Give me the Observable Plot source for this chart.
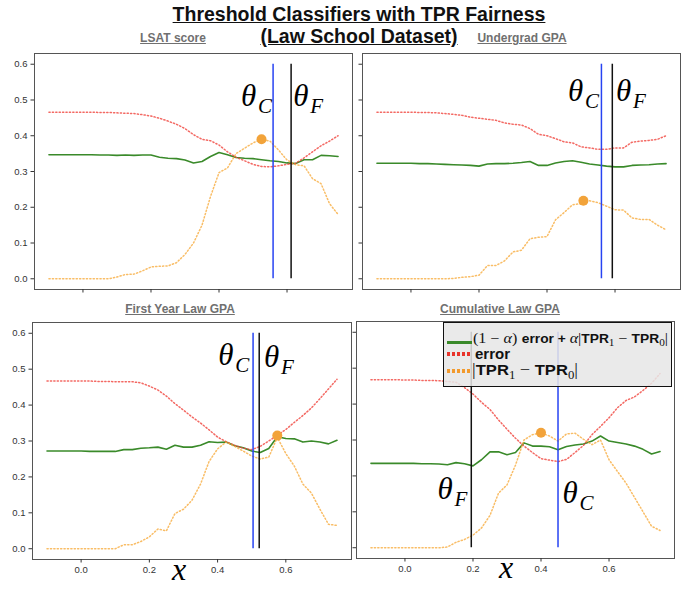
<!DOCTYPE html>
<html><head><meta charset="utf-8">
<script src="https://cdn.jsdelivr.net/npm/d3@7"></script>
<script src="https://cdn.jsdelivr.net/npm/@observablehq/plot@0.6"></script>
<style>
body{margin:0;background:#fff;}
#wrap{position:relative;width:691px;height:600px;background:#fff;overflow:hidden;font-family:"Liberation Sans",Arial,Helvetica,sans-serif;}
.abs{position:absolute;white-space:nowrap;line-height:1;}
.title{font-weight:bold;font-size:19.5px;color:#111;text-decoration:underline;transform:translateX(-50%);}
.ptitle{font-weight:bold;font-size:12px;color:#707070;text-decoration:underline;transform:translateX(-50%);}
.xl{font-family:"Liberation Serif","Times New Roman",serif;font-style:italic;font-size:32px;color:#000;}
.panel{position:absolute;}
.m{font-family:"Liberation Serif","Times New Roman",serif;font-weight:normal;}
.op{margin:0 0.25em;}
sub{font-size:0.7em;vertical-align:-0.3em;line-height:0;}
.sw{position:absolute;width:25px;}
.fit{transform-origin:0 50%;}
</style></head>
<body><div id="wrap">
<div class="abs title" style="left:359px;top:4.5px">Threshold Classifiers with TPR Fairness</div>
<div class="abs title" style="left:359px;top:26.5px">(Law School Dataset)</div>
<div class="abs ptitle" style="left:173px;top:31.5px">LSAT score</div>
<div class="abs ptitle" style="left:522px;top:32px">Undergrad GPA</div>
<div class="abs ptitle" style="left:180px;top:302.8px">First Year Law GPA</div>
<div class="abs ptitle" style="left:500px;top:302.8px">Cumulative Law GPA</div>
<div class="panel" id="p1" style="left:0px;top:45px"></div>
<div class="panel" id="p2" style="left:358px;top:45px"></div>
<div class="panel" id="p3" style="left:0px;top:314px"></div>
<div class="panel" id="p4" style="left:352px;top:313px"></div>
<div class="abs xl" style="left:172px;top:553px">x</div>
<div class="abs xl" style="left:499px;top:551px">x</div>
<div id="legend" style="position:absolute;left:443px;top:322px;width:229px;height:65px;box-sizing:border-box;border:1.5px solid #111;background:rgba(231,231,231,0.86);">
  <div class="sw" style="left:3px;top:17.5px;height:3.5px;background:#3a8a2a"></div>
  <div class="abs fit" data-w="195" style="left:29px;top:7.5px;font-size:14px;color:#111"><span class="m">(1<span class="op">−</span><i>α</i>)</span> <b style="font-size:12px">error + </b><i class="m">α</i><span class="m">|</span><b style="font-size:12px">TPR</b><sub class="m">1</sub><span class="m op">−</span><b style="font-size:12px">TPR</b><sub class="m">0</sub><span class="m">|</span></div>
  <div class="sw" style="left:3px;top:29px;height:3.5px;background:repeating-linear-gradient(to right,#e8352c 0 3px,transparent 3px 5px)"></div>
  <div class="abs" style="left:31px;top:23px;font-size:15px;font-weight:bold;color:#111">error</div>
  <div class="sw" style="left:3px;top:46px;height:3.5px;background:repeating-linear-gradient(to right,#f29a2e 0 3px,transparent 3px 5px)"></div>
  <div class="abs fit" data-w="106" style="left:28px;top:38px;font-size:17px;color:#111"><span class="m">|</span><b style="font-size:15.5px">TPR</b><sub class="m">1</sub><span class="m op">−</span><b style="font-size:15.5px">TPR</b><sub class="m">0</sub><span class="m">|</span></div>
</div>
</div>
<script>
// shared threshold grid
const xs = [-0.1,-0.075,-0.05,-0.025,0,0.025,0.05,0.075,0.1,0.125,0.15,0.175,0.2,0.225,0.25,0.275,0.3,0.325,0.35,0.375,0.4,0.425,0.45,0.475,0.5,0.525,0.55,0.575,0.6,0.625,0.65,0.675,0.7,0.725,0.75];
const xTicks = [0, 0.2, 0.4, 0.6];
const yTicks = [0, 0.1, 0.2, 0.3, 0.4, 0.5, 0.6];

// LSAT score
const lsatObjective = [0.347,0.347,0.347,0.347,0.347,0.347,0.346,0.346,0.345,0.346,0.345,0.346,0.346,0.34,0.337,0.336,0.332,0.324,0.328,0.342,0.353,0.347,0.339,0.337,0.336,0.333,0.33,0.328,0.324,0.322,0.333,0.333,0.345,0.344,0.342];
const lsatError = [0.466,0.466,0.466,0.466,0.466,0.466,0.465,0.465,0.464,0.463,0.462,0.459,0.455,0.449,0.441,0.432,0.42,0.403,0.39,0.386,0.374,0.355,0.34,0.33,0.32,0.314,0.313,0.316,0.32,0.323,0.338,0.355,0.372,0.385,0.4];
const lsatGap = [0,0,0,0,0,0,0,0,0.005,0.012,0.013,0.022,0.033,0.035,0.036,0.045,0.068,0.1,0.15,0.23,0.297,0.31,0.35,0.365,0.38,0.39,0.385,0.36,0.332,0.319,0.316,0.28,0.266,0.21,0.18];
const lsatThreshold = {C: 0.559, F: 0.612};
const lsatBest = {x: 0.525, y: 0.39};
const lsatMarkers = [{label: "C", x: 0.465, y: 0.483}, {label: "F", x: 0.618, y: 0.483}];

// Undergrad GPA
const ugpaObjective = [0.323,0.323,0.323,0.323,0.323,0.322,0.322,0.321,0.32,0.319,0.318,0.317,0.315,0.321,0.322,0.322,0.323,0.325,0.328,0.317,0.317,0.324,0.328,0.33,0.326,0.321,0.318,0.315,0.313,0.313,0.317,0.318,0.319,0.321,0.322];
const ugpaError = [0.466,0.466,0.466,0.466,0.466,0.465,0.465,0.464,0.462,0.46,0.457,0.452,0.449,0.446,0.443,0.436,0.432,0.43,0.42,0.404,0.4,0.392,0.383,0.38,0.369,0.366,0.362,0.362,0.366,0.366,0.382,0.385,0.387,0.39,0.4];
const ugpaGap = [0,0,0,0,0,0,0,0,0,0.001,0.004,0.006,0.01,0.037,0.037,0.05,0.075,0.08,0.112,0.116,0.118,0.165,0.185,0.207,0.21,0.218,0.213,0.203,0.193,0.192,0.17,0.166,0.166,0.15,0.137];
const ugpaThreshold = {C: 0.56, F: 0.592};
const ugpaBest = {x: 0.507, y: 0.218};
const ugpaMarkers = [{label: "C", x: 0.462, y: 0.497}, {label: "F", x: 0.603, y: 0.497}];

// First Year Law GPA
const fyObjective = [0.272,0.272,0.272,0.272,0.272,0.271,0.271,0.271,0.271,0.276,0.276,0.28,0.281,0.283,0.277,0.288,0.283,0.283,0.288,0.298,0.296,0.297,0.287,0.281,0.272,0.268,0.279,0.312,0.307,0.306,0.297,0.3,0.297,0.292,0.302];
const fyError = [0.467,0.467,0.467,0.467,0.467,0.467,0.466,0.466,0.465,0.465,0.465,0.462,0.453,0.442,0.425,0.404,0.386,0.367,0.35,0.331,0.311,0.298,0.288,0.28,0.276,0.285,0.3,0.316,0.332,0.352,0.371,0.392,0.418,0.445,0.472];
const fyGap = [0,0,0,0,0,0,0,0,0,0.011,0.011,0.02,0.033,0.055,0.05,0.098,0.11,0.135,0.18,0.243,0.278,0.297,0.285,0.272,0.258,0.25,0.255,0.31,0.265,0.23,0.18,0.155,0.11,0.068,0.065];
const fyThreshold = {C: 0.504, F: 0.522};
const fyBest = {x: 0.575, y: 0.315};
const fyMarkers = [{label: "C", x: 0.402, y: 0.511}, {label: "F", x: 0.536, y: 0.506}];

// Cumulative Law GPA
const cumObjective = [0.235,0.235,0.235,0.235,0.235,0.235,0.234,0.234,0.233,0.231,0.237,0.234,0.228,0.245,0.267,0.267,0.259,0.265,0.292,0.283,0.283,0.281,0.273,0.282,0.286,0.289,0.297,0.311,0.297,0.293,0.289,0.283,0.274,0.261,0.268];
const cumError = [0.468,0.468,0.468,0.468,0.467,0.467,0.466,0.466,0.465,0.463,0.461,0.446,0.428,0.405,0.385,0.356,0.33,0.305,0.283,0.265,0.248,0.244,0.24,0.246,0.265,0.285,0.315,0.338,0.362,0.39,0.41,0.42,0.438,0.458,0.485];
const cumGap = [0,0,0,0,0,0,0,0,0,0.002,0.015,0.023,0.035,0.055,0.09,0.152,0.175,0.23,0.3,0.315,0.32,0.311,0.297,0.317,0.319,0.302,0.287,0.3,0.245,0.212,0.18,0.14,0.1,0.06,0.048];
const cumThreshold = {C: 0.45, F: 0.195};
const cumBest = {x: 0.40, y: 0.32};
const cumMarkers = [{label: "F", x: 0.096, y: 0.137}, {label: "C", x: 0.463, y: 0.125}];

const GREEN = "#3a8a2a", RED = "#f0443c", ORANGE = "#f8ac40", DOT = "#f2a33a", BLUE = "#2743f2", BLACK = "#111";
const fmt = d3.format(".1f");
const rows = vals => xs.map((x, i) => ({x, v: vals[i]}));
const serif = '"Liberation Serif", "Times New Roman", serif';

function panel(c) {
  return Plot.plot({
    width: c.w, height: c.h,
    marginLeft: c.mL, marginRight: c.mR, marginTop: c.mT, marginBottom: c.mB,
    style: {background: "transparent", fontFamily: '"Liberation Sans", Arial, sans-serif', fontSize: "9.5px", color: "#333", overflow: "visible"},
    x: {domain: [-0.1425, 0.7925], label: null},
    y: {domain: [-0.03, 0.63], label: null},
    marks: [
      Plot.line(rows(c.objective), {x: "x", y: "v", stroke: GREEN, strokeWidth: 1.6}),
      Plot.line(rows(c.error), {x: "x", y: "v", stroke: RED, strokeOpacity: 0.8, strokeWidth: 1.5, strokeDasharray: "1.2,2.2"}),
      Plot.line(rows(c.gap), {x: "x", y: "v", stroke: ORANGE, strokeOpacity: 0.8, strokeWidth: 1.5, strokeDasharray: "1.2,2.2"}),
      Plot.ruleX([c.threshold.C], {x: d => d, y1: 0, y2: 0.6, stroke: BLUE, strokeWidth: 1.5}),
      Plot.ruleX([c.threshold.F], {x: d => d, y1: 0, y2: 0.6, stroke: BLACK, strokeWidth: 1.5}),
      Plot.dot([c.best], {x: "x", y: "y", r: 5, fill: DOT}),
      Plot.text(c.markers, {x: "x", y: "y", text: () => "θ", textAnchor: "start", lineAnchor: "bottom", fontSize: 31, fontStyle: "italic", fontFamily: serif, fill: "#000"}),
      Plot.text(c.markers, {x: "x", y: "y", text: "label", dx: 17, dy: 7, textAnchor: "start", lineAnchor: "bottom", fontSize: 21, fontStyle: "italic", fontFamily: serif, fill: "#000"}),
      Plot.frame({stroke: "#555"}),
      Plot.axisX({ticks: xTicks, tickFormat: c.xLabels ? fmt : () => "", tickSize: 3.5, tickPadding: 3, label: null}),
      Plot.axisY({ticks: yTicks, tickFormat: c.yLabels ? fmt : () => "", tickSize: 3.5, tickPadding: 3.5, label: null})
    ]
  });
}

document.getElementById("p1").append(panel({objective: lsatObjective, error: lsatError, gap: lsatGap, threshold: lsatThreshold, best: lsatBest, markers: lsatMarkers, xLabels: false, yLabels: true, w: 358, h: 252, mL: 34, mR: 6, mT: 8, mB: 8}));
document.getElementById("p2").append(panel({objective: ugpaObjective, error: ugpaError, gap: ugpaGap, threshold: ugpaThreshold, best: ugpaBest, markers: ugpaMarkers, xLabels: false, yLabels: false, w: 330, h: 252, mL: 4, mR: 8, mT: 8, mB: 8}));
document.getElementById("p3").append(panel({objective: fyObjective, error: fyError, gap: fyGap, threshold: fyThreshold, best: fyBest, markers: fyMarkers, xLabels: true, yLabels: true, w: 356, h: 275, mL: 32, mR: 5, mT: 8, mB: 30}));
document.getElementById("p4").append(panel({objective: cumObjective, error: cumError, gap: cumGap, threshold: cumThreshold, best: cumBest, markers: cumMarkers, xLabels: true, yLabels: false, w: 330, h: 275, mL: 4, mR: 8, mT: 8, mB: 30}));

// stretch legend labels horizontally to the reference widths
document.querySelectorAll(".fit").forEach(el => {
  const w = el.getBoundingClientRect().width;
  const target = +el.dataset.w;
  if (w > 0) el.style.transform = `scaleX(${target / w})`;
});
</script>
</body></html>
